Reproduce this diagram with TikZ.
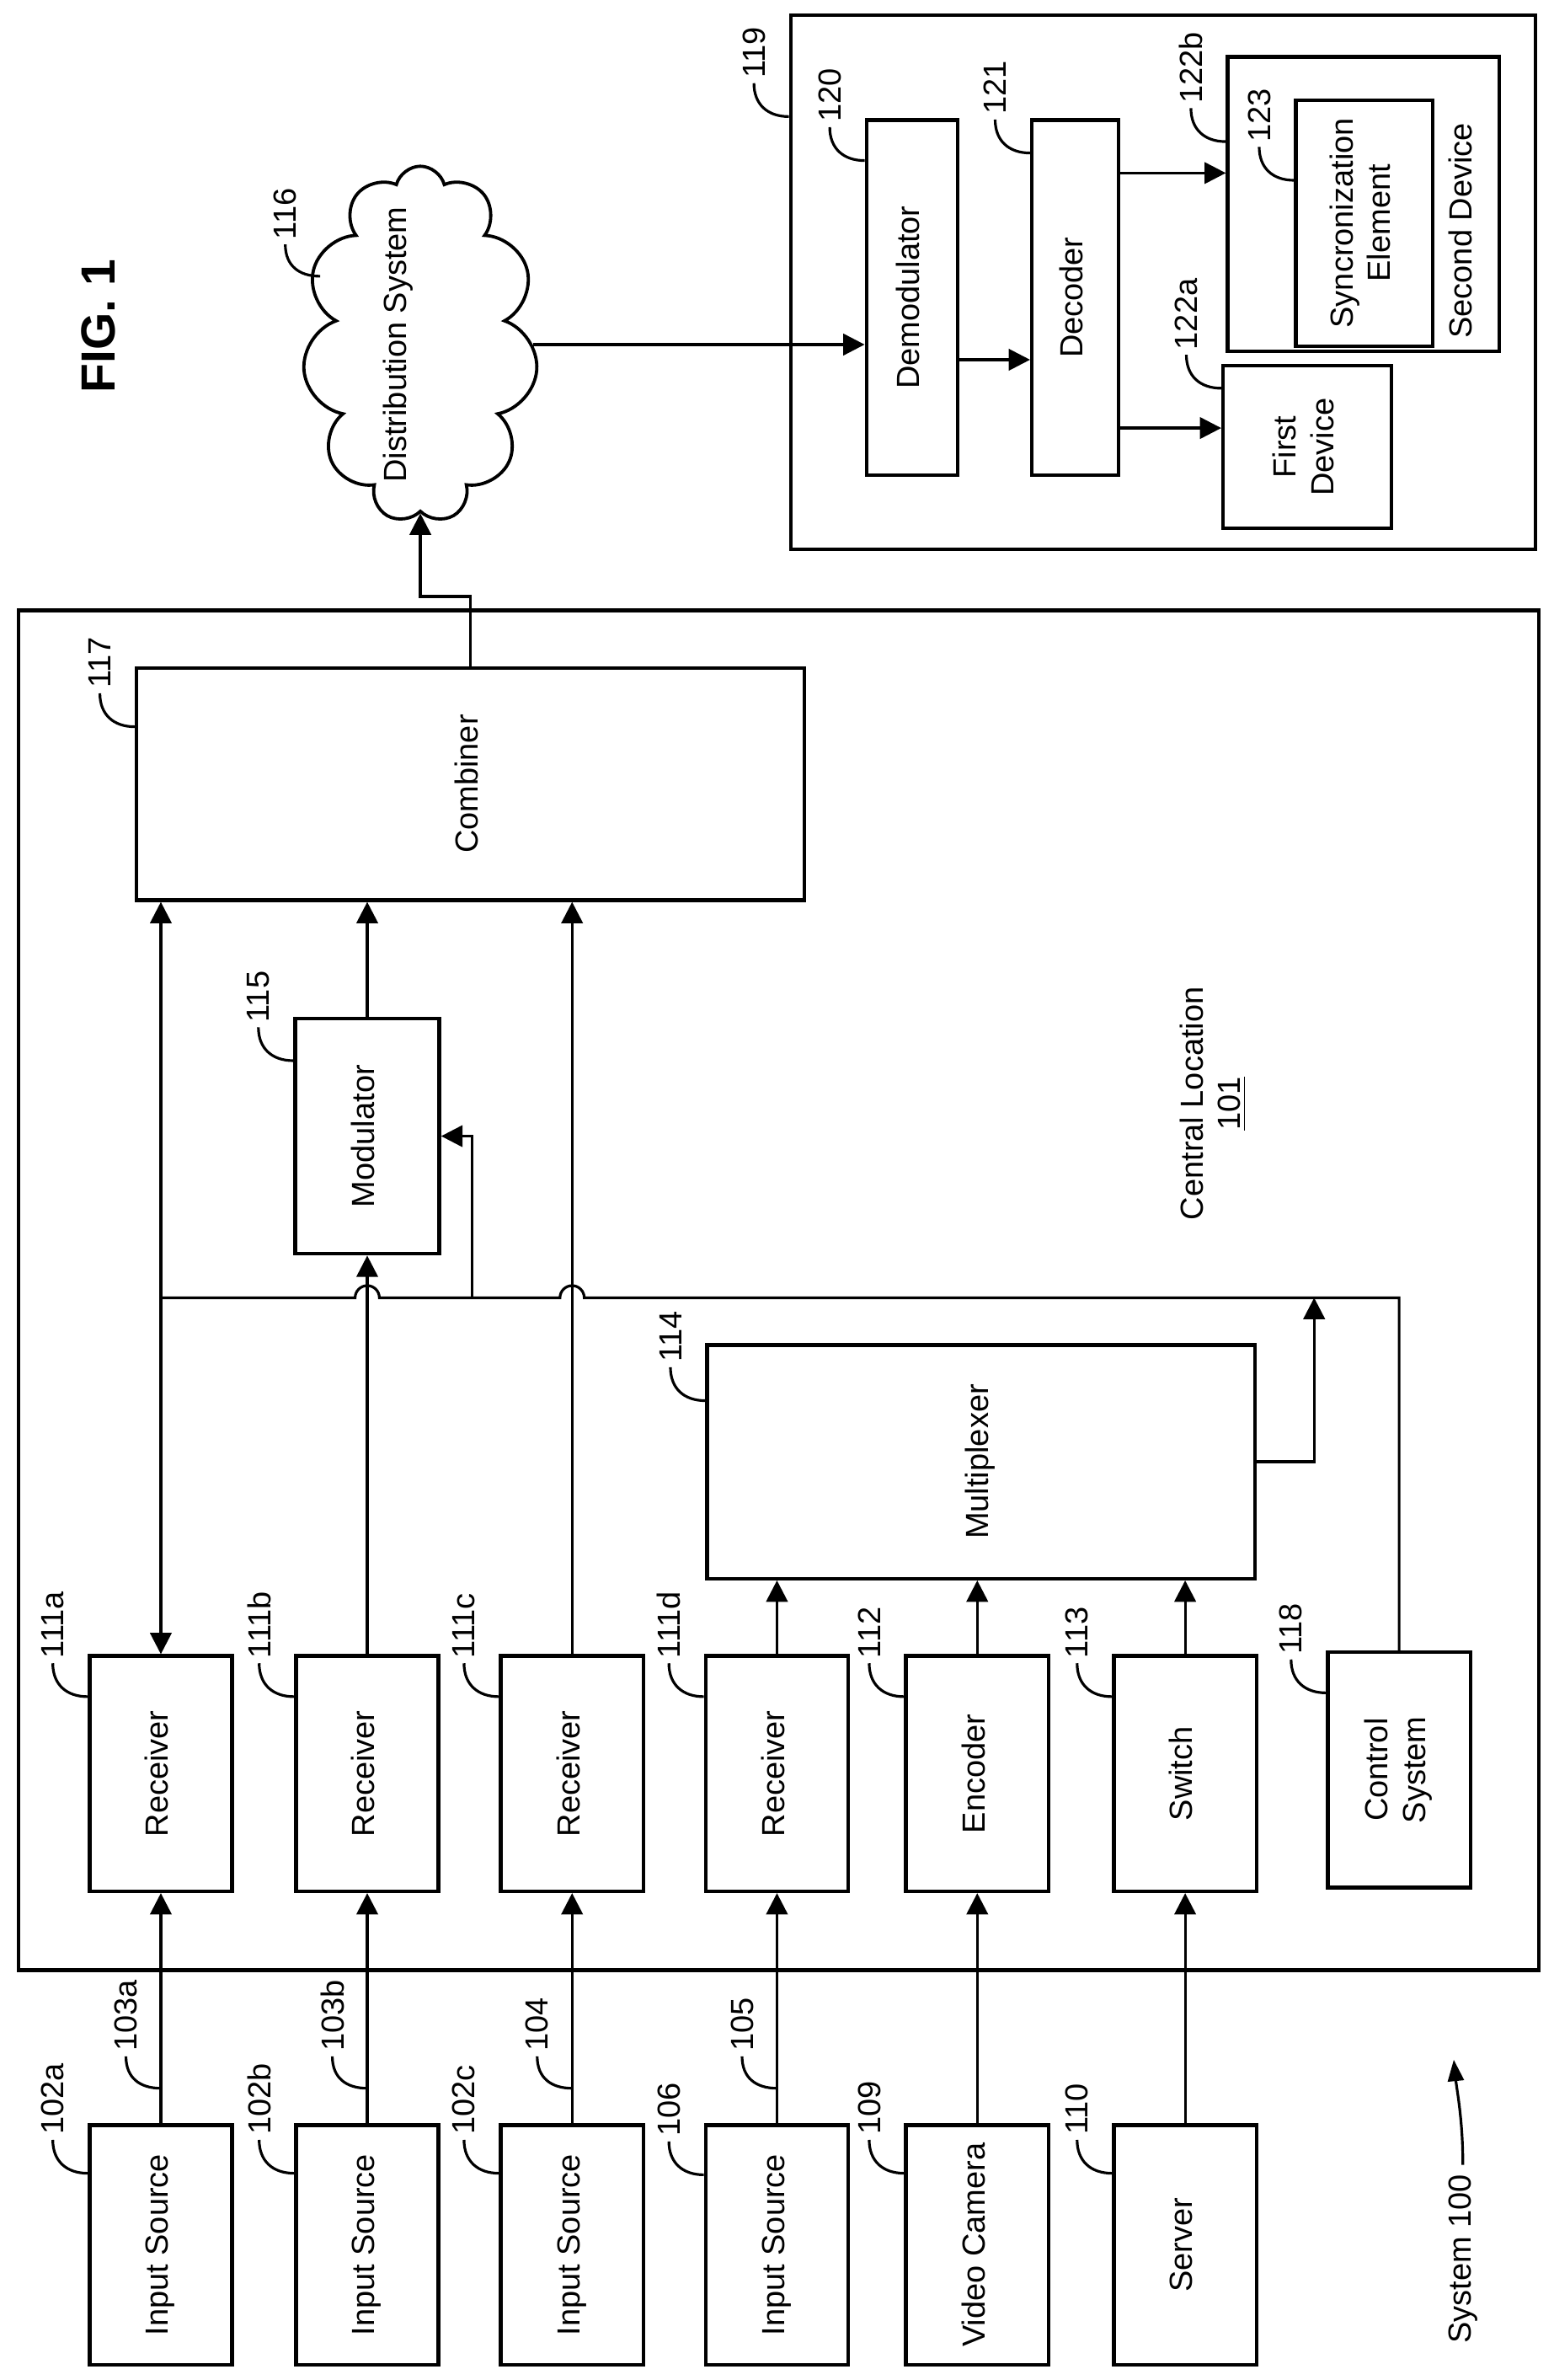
\documentclass[tikz,border=0pt]{standalone}
\usepackage{fontspec}
\setmainfont{Liberation Sans}
\usetikzlibrary{shapes.symbols, arrows.meta, positioning, calc}
\tikzstyle{blk} = [rectangle, draw=black, line width=1.4pt, fill=white, text centered, inner sep=0pt]
\tikzstyle{lbl} = [inner sep=0pt, anchor=south]
\tikzstyle{arrow} = [line width=1pt, -{Triangle[length=8pt,width=8pt]}]
\tikzstyle{lead} = [line width=1pt]
\newcommand{\rt}[1]{\rotatebox{90}{\begin{tabular}{@{}c@{}}#1\end{tabular}}}

\begin{document}
\begin{tikzpicture}[x=0.02cm, y=-0.02cm, font=\fontsize{12}{14}\selectfont]
    \useasboundingbox (0,0) rectangle (1024,1568);
    % outer boxes
    \node (central) [blk, minimum width=20.04cm, minimum height=17.92cm] at (513,850) {};
    \node (site) [blk, minimum width=9.82cm, minimum height=7.04cm] at (766.5,186) {};
    \node (fig) [font=\bfseries\fontsize{18}{20}\selectfont] at (65,215) {\rotatebox{90}{FIG. 1}};
    \node (cloc) at (800,727) {\rt{Central Location\\\underline{101}}};
    % central location
    \node (comb) [blk, minimum width=8.8cm, minimum height=3.06cm] at (310,516.5) {\rt{Combiner}};
    \node (mod) [blk, minimum width=1.9cm, minimum height=3.1cm] at (242,748.5) {\rt{Modulator}};
    \node (mux) [blk, minimum width=7.22cm, minimum height=3.08cm] at (646.5,963) {\rt{Multiplexer}};
    \node (rxa) [blk, minimum width=1.88cm, minimum height=3.1cm] at (106,1168.5) {\rt{Receiver}};
    \node (rxb) [blk, minimum width=1.88cm, minimum height=3.1cm] at (242,1168.5) {\rt{Receiver}};
    \node (rxc) [blk, minimum width=1.88cm, minimum height=3.1cm] at (377,1168.5) {\rt{Receiver}};
    \node (rxd) [blk, minimum width=1.88cm, minimum height=3.1cm] at (512,1168.5) {\rt{Receiver}};
    \node (enc) [blk, minimum width=1.88cm, minimum height=3.1cm] at (644,1168.5) {\rt{Encoder}};
    \node (sw) [blk, minimum width=1.88cm, minimum height=3.1cm] at (781,1168.5) {\rt{Switch}};
    \node (ctl) [blk, minimum width=1.88cm, minimum height=3.1cm] at (922,1166) {\rt{Control\\System}};
    % sources
    \node (srca) [blk, minimum width=1.88cm, minimum height=3.16cm] at (106,1479) {\rt{Input Source}};
    \node (srcb) [blk, minimum width=1.88cm, minimum height=3.16cm] at (242,1479) {\rt{Input Source}};
    \node (srcc) [blk, minimum width=1.88cm, minimum height=3.16cm] at (377,1479) {\rt{Input Source}};
    \node (srcd) [blk, minimum width=1.88cm, minimum height=3.16cm] at (512,1479) {\rt{Input Source}};
    \node (cam) [blk, minimum width=1.88cm, minimum height=3.16cm] at (644,1479) {\rt{Video Camera}};
    \node (srv) [blk, minimum width=1.88cm, minimum height=3.16cm] at (781,1479) {\rt{Server}};
    % distribution and devices
    \node (cloud) [cloud, draw, line width=1.2pt, cloud puffs=11, aspect=0.66, minimum width=3.1cm, minimum height=4.7cm, inner sep=0pt] at (277,227) {};
    \node (cloudt) at (263,227) {\rt{Distribution System}};
    \node (demod) [blk, minimum width=1.2cm, minimum height=4.68cm] at (601,196) {\rt{Demodulator}};
    \node (dec) [blk, minimum width=1.14cm, minimum height=4.68cm] at (708.5,196) {\rt{Decoder}};
    \node (dev2) [blk, minimum width=3.58cm, minimum height=3.88cm] at (898.5,134.5) {};
    \node (dev2t) at (965,152) {\rt{Second Device}};
    \node (sync) [blk, minimum width=1.8cm, minimum height=3.24cm] at (899,147) {\rt{Syncronization\\Element}};
    \node (dev1) [blk, minimum width=2.22cm, minimum height=2.14cm] at (861.5,294.5) {\rt{First\\Device}};
    % source arrows
    \foreach \s/\r in {srca/rxa, srcb/rxb, srcc/rxc, srcd/rxd, cam/enc, srv/sw}
        \draw [arrow] (\s.north) -- (\r.south);
    \foreach \r in {rxd, enc, sw}
        \draw [arrow] (\r.north) -- (\r.north |- mux.south);
    \draw [line width=1pt, {Triangle[length=8pt,width=8pt]}-{Triangle[length=8pt,width=8pt]}] (rxa.north) -- (rxa.north |- comb.south);
    \draw [arrow] (rxb.north) -- (mod.south);
    \draw [arrow] (mod.north) -- (mod.north |- comb.south);
    \draw [arrow] (rxc.north) -- (rxc.north |- comb.south);
    % control bus
    \coordinate (busL) at (106,855);
    \coordinate (busR) at (922,855);
    \coordinate (tap) at (311,855);
    \coordinate (muxup) at (866,855);
    \coordinate (jog) at (310,393);
    \draw [line width=1pt] (ctl.north) -- (busR) -- (385,855) arc[start angle=0, end angle=180, radius=0.16cm]
        -- (250,855) arc[start angle=0, end angle=180, radius=0.16cm] -- (busL);
    \draw [arrow] (tap) |- (mod.east);
    \draw [arrow] (mux.east) -| (muxup);
    \draw [arrow] (comb.north) -- (jog) -| (cloud.south);
    \draw [arrow] (cloud.east) -- (cloud.east -| demod.west);
    \draw [arrow] (demod.east |- 0,237) -- (dec.west |- 0,237);
    \draw [arrow] (dec.east |- 0,114) -- (dev2.west |- 0,114);
    \draw [arrow] (dec.east |- 0,282) -- (dev1.west |- 0,282);
    % reference labels
    \foreach \b/\t/\off in {comb/117/40, mod/115/29, mux/114/38,
        rxa/111a/28, rxb/111b/28, rxc/111c/28, rxd/111d/28, enc/112/28, sw/113/28, ctl/118/28,
        srca/102a/33, srcb/102b/33, srcc/102c/33, srcd/106/34, cam/109/33, srv/110/33,
        site/119/68, demod/120/28, dec/121/23, dev2/122b/57, dev1/122a/16, sync/123/54}
    {
        \coordinate (\t e) at ($(\b.north west)+(0,\off)$);
        \coordinate (\t s) at ($(\t e)+(-23,-22)$);
        \node (\t) [lbl] at ($(\t s)+(0,-3)$) {\rotatebox{90}{\t}};
        \draw [lead] (\t s) .. controls +(0,14) and +(-14,0) .. (\t e);
    }
    \foreach \b/\t in {srca/103a, srcb/103b, srcc/104, srcd/105}
    {
        \coordinate (\t e) at ($(\b.north)+(0,-23)$);
        \coordinate (\t s) at ($(\t e)+(-23,-21)$);
        \node (\t) [lbl] at ($(\t s)+(0,-3)$) {\rotatebox{90}{\t}};
        \draw [lead] (\t s) .. controls +(0,14) and +(-14,0) .. (\t e);
    }
    \coordinate (116e) at (211,182);
    \coordinate (116s) at (188,161);
    \node (116) [lbl] at (188,158) {\rotatebox{90}{116}};
    \draw [lead] (116s) .. controls +(0,14) and +(-14,0) .. (116e);
    % system label
    \node (sys) [anchor=south] at (964,1550) {\rotatebox{90}{System 100}};
    \coordinate (sysend) at (958,1357);
    \draw [line width=1pt, -{Triangle[length=8pt,width=6pt]}] (sys.north) .. controls +(0,-30) and +(2,20) .. (sysend);
\end{tikzpicture}
\end{document}
